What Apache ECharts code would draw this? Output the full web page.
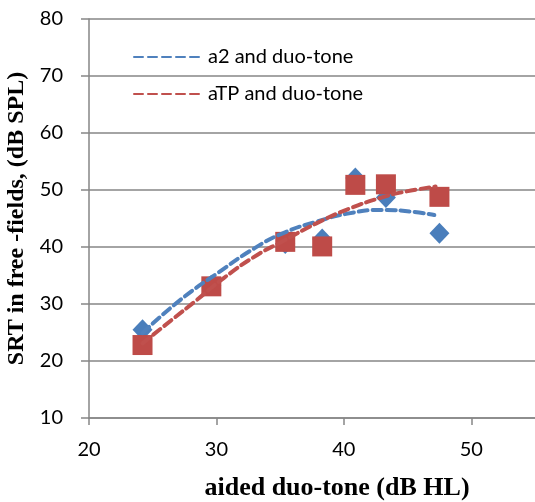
<!DOCTYPE html>
<html><head><meta charset="utf-8">
<script src="https://cdn.jsdelivr.net/npm/echarts@6/dist/echarts.min.js"></script>
<style>html,body{margin:0;padding:0;background:#fff}#c{width:535px;height:502px}</style>
</head><body><div id="c"></div>
<script>
var xValues = [24.2, 29.6, 35.4, 38.3, 40.9, 43.3, 47.5];
var a2Values = [25.5, 33.3, 40.6, 41.4, 52.1, 48.7, 42.4];
var aTPValues = [22.8, 33.1, 40.9, 40.1, 50.9, 51.0, 48.8];
var a2TrendX = [24.2, 27.1, 30.2, 33.0, 35.2, 37.8, 40.4, 43.0, 45.3, 47.1];
var a2TrendY = [24.9, 30.6, 35.6, 39.8, 42.4, 44.4, 45.9, 46.5, 46.2, 45.6];
var aTPTrendX = [24.2, 26.6, 28.4, 30.6, 33.2, 35.2, 37.8, 40.4, 43.0, 44.8, 47.2];
var aTPTrendY = [23.1, 27.4, 30.6, 34.6, 38.6, 41.0, 44.1, 46.7, 48.7, 49.7, 50.6];
var xTicks = [20, 30, 40, 50];
var yTicks = [10, 20, 30, 40, 50, 60, 70, 80];
var seriesNames = ['a2 and duo-tone', 'aTP and duo-tone'];

function pairs(xs, ys) { return xs.map(function (x, i) { return [x, ys[i]]; }); }

var blue = '#4F81BD', red = '#C0504D';
var chart = echarts.init(document.getElementById('c'), null, {renderer: 'canvas'});
chart.setOption({
  animation: false,
  grid: {left: 89, right: 0, top: 19, bottom: 84, containLabel: false, outerBoundsMode: 'none'},
  legend: {
    orient: 'vertical', left: 133, top: 47, padding: 0, itemWidth: 69, itemHeight: 14, itemGap: 17,
    data: seriesNames,
    itemStyle: {opacity: 0},
    textStyle: {fontFamily: 'Lato', fontSize: 20, color: '#000'}
  },
  xAxis: {
    type: 'value', min: 20, max: 55, interval: 10,
    name: 'aided duo-tone (dB HL)', nameLocation: 'middle', nameGap: 57,
    nameTextStyle: {fontFamily: 'Liberation Serif', fontWeight: 'bold', fontSize: 26, color: '#000', padding: [0,0,0,50]},
    axisLine: {show: true, lineStyle: {color: '#868686', width: 1.5}},
    axisTick: {show: true, length: 7, lineStyle: {color: '#868686', width: 1.5}},
    axisLabel: {fontFamily: 'Lato', fontSize: 20, color: '#000', margin: 22, showMaxLabel: false,
      formatter: function (v) { return xTicks.indexOf(v) >= 0 ? String(v) : ''; }},
    splitLine: {show: false}
  },
  yAxis: {
    type: 'value', min: 10, max: 80, interval: 10,
    name: 'SRT in free -fields, (dB SPL)', nameLocation: 'middle', nameGap: 46,
    nameTextStyle: {fontFamily: 'Liberation Serif', fontWeight: 'bold', fontSize: 24, color: '#000'},
    axisLine: {show: true, lineStyle: {color: '#868686', width: 1.5}},
    axisTick: {show: true, length: 8, lineStyle: {color: '#868686', width: 1.5}},
    axisLabel: {fontFamily: 'Lato', fontSize: 20, color: '#000', margin: 26,
      formatter: function (v) { return yTicks.indexOf(v) >= 0 ? String(v) : ''; }},
    splitLine: {show: true, lineStyle: {color: '#868686', width: 1.5}}
  },
  series: [
    {name: 'a2 points', type: 'scatter', symbol: 'diamond', symbolSize: [20, 21],
     itemStyle: {color: '#4A7EBB', opacity: 1}, data: pairs(xValues, a2Values), z: 2},
    {name: 'aTP points', type: 'scatter', symbol: 'rect', symbolSize: 20,
     itemStyle: {color: '#BE4B48', opacity: 1}, data: pairs(xValues, aTPValues), z: 3},
    {name: seriesNames[0], type: 'line', smooth: 0.5, symbol: 'none', showSymbol: false,
     lineStyle: {color: blue, width: 4, type: [9, 5], cap: 'round'}, itemStyle: {color: blue},
     data: pairs(a2TrendX, a2TrendY), z: 4},
    {name: seriesNames[1], type: 'line', smooth: 0.5, symbol: 'none', showSymbol: false,
     lineStyle: {color: red, width: 4, type: [9, 5], cap: 'round'}, itemStyle: {color: red},
     data: pairs(aTPTrendX, aTPTrendY), z: 5}
  ]
});
</script></body></html>
